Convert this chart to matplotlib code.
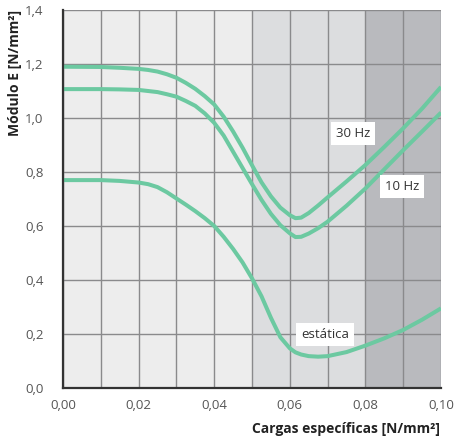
import matplotlib.pyplot as plt

plt.rcParams['font.family'] = ['Open Sans', 'DejaVu Sans']

# curves
carga = [0, 0.01, 0.015, 0.02, 0.0225, 0.025, 0.0275, 0.03, 0.0325, 0.035, 0.0375,
         0.04, 0.0425, 0.045, 0.0475, 0.05, 0.0525, 0.055, 0.0575, 0.06, 0.0615,
         0.063, 0.065, 0.0675, 0.07, 0.075, 0.08, 0.085, 0.09, 0.095, 0.10]
e_30 = [1.19, 1.189, 1.186, 1.182, 1.178, 1.172, 1.162, 1.149, 1.13, 1.108, 1.081,
        1.05, 1.005, 0.95, 0.89, 0.825, 0.762, 0.71, 0.668, 0.64, 0.629,
        0.631, 0.648, 0.676, 0.706, 0.765, 0.826, 0.893, 0.962, 1.035, 1.115]
e_10 = [1.107, 1.107, 1.106, 1.104, 1.1, 1.096, 1.088, 1.079, 1.063, 1.045, 1.017,
        0.982, 0.935, 0.875, 0.815, 0.755, 0.697, 0.645, 0.603, 0.573, 0.559,
        0.56, 0.572, 0.592, 0.616, 0.675, 0.739, 0.81, 0.881, 0.95, 1.02]
e_st = [0.77, 0.77, 0.767, 0.761, 0.755, 0.744, 0.725, 0.702, 0.679, 0.655, 0.629,
        0.6, 0.56, 0.515, 0.465, 0.406, 0.34, 0.26, 0.188, 0.147, 0.132,
        0.124, 0.118, 0.116, 0.118, 0.133, 0.157, 0.184, 0.215, 0.253, 0.295]

# background zones
zones = [(0.0, 0.05), (0.05, 0.08), (0.08, 0.10)]
zone_colors = ['#ededed', '#dcdddf', '#b9babe']

labels = ['30 Hz', '10 Hz', 'estática']
label_pos = [(0.0767, 0.944), (0.0897, 0.746), (0.0694, 0.198)]

green = '#6cc9a1'

fig = plt.figure(figsize=(4.54, 4.41), dpi=100)
ax = fig.add_axes([0.1388, 0.1202, 0.8326, 0.8571])

for (a, b), c in zip(zones, zone_colors):
    ax.axvspan(a, b, color=c, zorder=0, lw=0)

ax.set_xlim(0, 0.10)
ax.set_ylim(0, 1.4)
ax.set_xticks([i * 0.01 for i in range(11)])
ax.set_yticks([i * 0.2 for i in range(8)])
ax.set_xticklabels(['0,00', '', '0,02', '', '0,04', '', '0,06', '', '0,08', '', '0,10'])
ax.set_yticklabels(['0,0', '0,2', '0,4', '0,6', '0,8', '1,0', '1,2', '1,4'])
ax.grid(True, color='#8a8a8c', lw=1.0, zorder=1)
ax.tick_params(length=0, labelsize=9.5, labelcolor='#555555')
ax.tick_params(axis='y', pad=14)
ax.tick_params(axis='x', pad=8)

for side in ['top', 'right']:
    ax.spines[side].set_visible(False)
for side in ['left', 'bottom']:
    ax.spines[side].set_color('#333333')
    ax.spines[side].set_linewidth(1.6)
    ax.spines[side].set_zorder(4)

for ys in [e_30, e_10, e_st]:
    ax.plot(carga, ys, color=green, lw=2.9, solid_capstyle='butt',
            solid_joinstyle='round', zorder=3)

for txt, (tx, ty) in zip(labels, label_pos):
    ax.text(tx, ty, txt, ha='center', va='center', fontsize=9.5, color='#333333',
            zorder=5, bbox=dict(facecolor='white', edgecolor='none', pad=3.5))

fig.text(0.969, 0.028, 'Cargas específicas [N/mm²]', ha='right', va='center',
         fontsize=10, fontweight='bold', color='#222222')
fig.text(0.033, 0.977, 'Módulo E [N/mm²]', ha='center', va='top', rotation=90,
         fontsize=10, fontweight='bold', color='#222222')

fig.savefig('out.png', dpi=100)
